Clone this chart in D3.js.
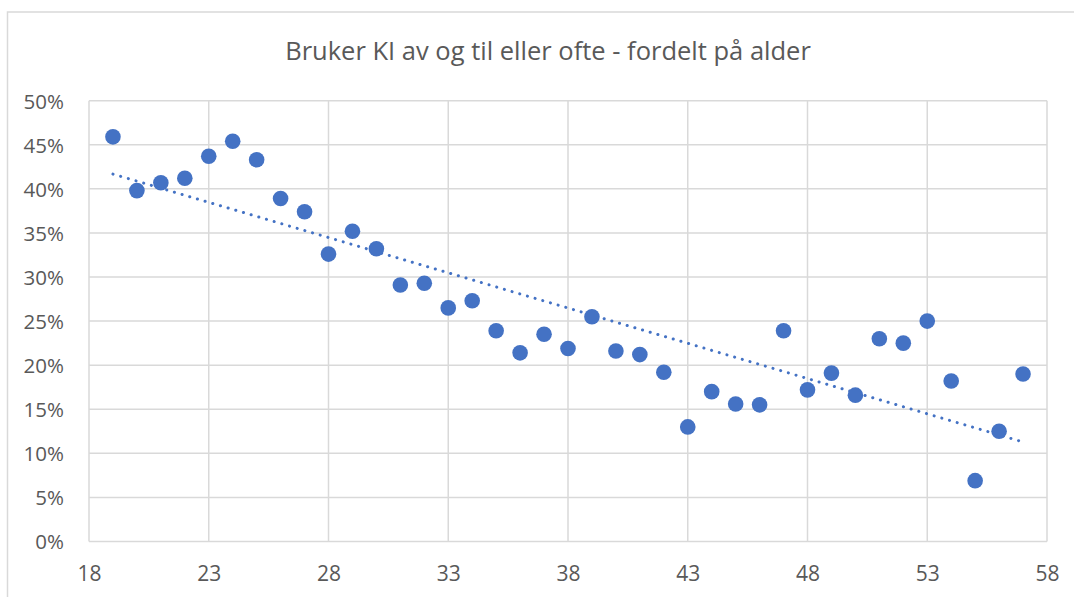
<!DOCTYPE html>
<html>
<head>
<meta charset="utf-8">
<script src="https://cdn.jsdelivr.net/npm/d3@7"></script>
<style>
  body { margin: 0; background: #fff; }
  svg { display: block; font-family: "Open Sans", sans-serif; }
</style>
</head>
<body>
<svg id="chart" width="1074" height="597"></svg>
<script>
const ages = [19, 20, 21, 22, 23, 24, 25, 26, 27, 28, 29, 30, 31, 32, 33, 34, 35, 36, 37, 38,
              39, 40, 41, 42, 43, 44, 45, 46, 47, 48, 49, 50, 51, 52, 53, 54, 55, 56, 57];
const shares = [0.459, 0.398, 0.407, 0.412, 0.437, 0.454, 0.433, 0.389, 0.374, 0.326,
                0.352, 0.332, 0.291, 0.293, 0.265, 0.273, 0.239, 0.214, 0.235, 0.219,
                0.255, 0.216, 0.212, 0.192, 0.130, 0.170, 0.156, 0.155, 0.239, 0.172,
                0.191, 0.166, 0.230, 0.225, 0.250, 0.182, 0.069, 0.125, 0.190];
const xTicks = [18, 23, 28, 33, 38, 43, 48, 53, 58];
const yTicks = [0, 0.05, 0.1, 0.15, 0.2, 0.25, 0.3, 0.35, 0.4, 0.45, 0.5];
const title = "Bruker KI av og til eller ofte - fordelt på alder";

const svg = d3.select("#chart");
const blue = "#4472C4";
const grid = "#d9d9d9";
const textColor = "#595959";

const x = d3.scaleLinear().domain([18, 58]).range([89, 1047]);
const y = d3.scaleLinear().domain([0, 0.5]).range([541.5, 100.7]);

// outer chart border (runs past the right and bottom edges)
svg.append("rect")
    .attr("x", 7.5).attr("y", 12)
    .attr("width", 1100).attr("height", 620)
    .attr("fill", "none")
    .attr("stroke", grid)
    .attr("stroke-width", 1.5);

svg.append("text")
    .attr("x", 548).attr("y", 60)
    .attr("text-anchor", "middle")
    .attr("font-size", 25.5)
    .attr("fill", textColor)
    .text(title);

// gridlines
svg.append("g").selectAll("line")
    .data(yTicks)
    .join("line")
    .attr("x1", x(18)).attr("x2", x(58))
    .attr("y1", d => y(d)).attr("y2", d => y(d))
    .attr("stroke", grid).attr("stroke-width", 1.5);

svg.append("g").selectAll("line")
    .data(xTicks)
    .join("line")
    .attr("x1", d => x(d)).attr("x2", d => x(d))
    .attr("y1", y(0)).attr("y2", y(0.5))
    .attr("stroke", grid).attr("stroke-width", 1.5);

// axes (labels only)
const yAxis = svg.append("g")
    .attr("transform", `translate(${x(18) - 22},0)`)
    .call(d3.axisLeft(y).tickValues(yTicks).tickFormat(d3.format(".0%")).tickSize(0));
yAxis.select(".domain").remove();
yAxis.selectAll("text")
    .attr("font-family", "Open Sans").attr("font-size", 20.5)
    .attr("fill", textColor).attr("dy", "0.36em");

const xAxis = svg.append("g")
    .attr("transform", `translate(0,${y(0) + 22})`)
    .call(d3.axisBottom(x).tickValues(xTicks).tickFormat(d3.format("d")).tickSize(0));
xAxis.select(".domain").remove();
xAxis.selectAll("text")
    .attr("font-family", "Open Sans").attr("font-size", 21)
    .attr("fill", textColor).attr("dy", "0.71em");

// linear trendline from least squares
const mx = d3.mean(ages), my = d3.mean(shares);
const slope = d3.sum(ages, (a, i) => (a - mx) * (shares[i] - my)) / d3.sum(ages, a => (a - mx) ** 2);
const icpt = my - slope * mx;
const ends = [d3.min(ages), d3.max(ages)];
svg.append("line")
    .attr("x1", x(ends[0])).attr("y1", y(icpt + slope * ends[0]))
    .attr("x2", x(ends[1])).attr("y2", y(icpt + slope * ends[1]))
    .attr("stroke", blue).attr("stroke-width", 3)
    .attr("stroke-linecap", "round")
    .attr("stroke-dasharray", "0.1,7.9");

// points
svg.append("g").selectAll("circle")
    .data(ages)
    .join("circle")
    .attr("cx", d => x(d))
    .attr("cy", (d, i) => y(shares[i]))
    .attr("r", 7.8)
    .attr("fill", blue);
</script>
</body>
</html>
